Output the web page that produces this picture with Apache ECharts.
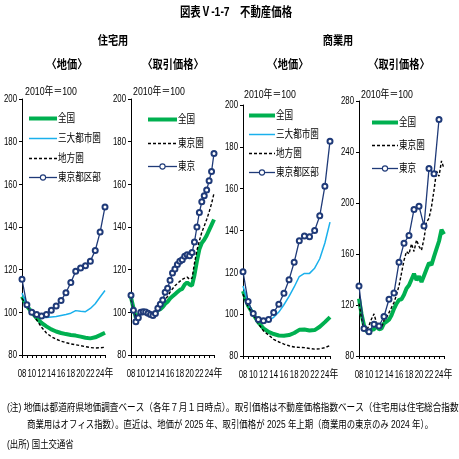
<!DOCTYPE html>
<html>
<head>
<meta charset="utf-8">
<script src="https://cdn.jsdelivr.net/npm/echarts@6/dist/echarts.min.js"></script>
<style>
  html, body { margin: 0; padding: 0; background: #fff; }
  #chart { width: 459px; height: 459px; }
</style>
</head>
<body>
<div id="chart"></div>
<script>
// 年（地価・年次）
var landYears = [2008, 2009, 2010, 2011, 2012, 2013, 2014, 2015, 2016, 2017, 2018, 2019, 2020, 2021, 2022, 2023, 2024, 2025];
// 半期（取引価格）
var halfYears = [2008, 2008.5, 2009, 2009.5, 2010, 2010.5, 2011, 2011.5, 2012, 2012.5, 2013, 2013.5, 2014, 2014.5,
  2015, 2015.5, 2016, 2016.5, 2017, 2017.5, 2018, 2018.5, 2019, 2019.5, 2020, 2020.5, 2021, 2021.5,
  2022, 2022.5, 2023, 2023.5, 2024, 2024.5, 2025];
// 商業用 東京（年次, 2024年まで）
var officeTokyoYears = [2008, 2009, 2010, 2011, 2012, 2013, 2014, 2015, 2016, 2017, 2018, 2019, 2020, 2021, 2022, 2023, 2024];

// 住宅用 地価
var resLandNational = [107.4, 103, 100, 97.2, 95, 93.4, 92, 91, 90.3, 89.8, 89.4, 89.1, 88.6, 88.1, 87.8, 88.3, 89.3, 90.4];
var resLandMetro = [109, 103.5, 100, 98.5, 97.6, 97.6, 97.8, 98, 98.5, 99, 99.6, 100.8, 100.5, 100.3, 101.8, 104, 107.2, 110.2];
var resLandRegional = [106.6, 102.8, 100, 96.5, 93, 90.3, 88.6, 87.4, 86.5, 85.8, 85.2, 84.8, 84.4, 83.9, 83.5, 83.3, 83.4, 83.6];
var resLandTokyo = [115.5, 103.5, 100, 99, 98.3, 99, 101, 103, 105.5, 109.2, 114, 119.2, 120.8, 121.8, 124, 129, 137.6, 149.4];

// 住宅用 取引価格（半期）
var resTxNational = [107, 102, 97.5, 98.5, 100, 100.2, 100, 99.6, 99, 99, 99.8, 101, 101.5, 102.5, 104, 105, 106.5, 107.5,
  108.5, 109.5, 110.5, 111, 113, 114, 113, 112.5, 117.5, 124, 129.5, 132.5, 134, 136, 138.5, 141, 143.5];
var resTxTokyoArea = [106, 101, 97.5, 98.5, 100, 100.3, 100, 99.6, 99, 99, 100, 101.5, 102.5, 104, 106, 107.5, 109.5, 111,
  112.5, 113.5, 114.5, 115.5, 116, 116.5, 115.5, 116, 123, 129, 133.5, 137.5, 140.5, 143.5, 147, 151, 155.8];
var resTxTokyo = [108, 101, 95.6, 97.5, 100, 100.3, 100.2, 99.6, 99, 98.5, 99.5, 101.9, 103.8, 105.8, 109.4, 111.3, 115, 118.4,
  120.3, 122.4, 123.9, 124.7, 126.3, 127, 126.5, 128, 133, 140, 146.8, 151.8, 154.6, 157.3, 161.7, 166, 174.5];

// 商業用 地価
var comLandNational = [111, 104, 100, 96, 93.2, 91.5, 90.5, 89.8, 89.7, 90, 91, 92.5, 92.7, 92.2, 92.4, 94, 96.2, 98.6];
var comLandMetro = [113.5, 105.5, 100, 97.5, 96.7, 97, 98.5, 101, 104.5, 108.5, 113, 118, 119.5, 119.5, 122, 126.5, 134, 144];
var comLandRegional = [109.5, 103.5, 100, 95.5, 92, 90, 88, 86.7, 85.7, 84.9, 84.3, 84.1, 84, 83.6, 83.3, 83.4, 84, 85];
var comLandTokyo = [120.3, 106, 100.3, 97.4, 96.8, 97.4, 100.8, 104.8, 110, 116.5, 124.8, 135.1, 137.4, 137, 140, 147, 161.2, 182.7];

// 商業用 取引価格
var comTxNational = [125, 113, 104, 99.5, 99, 100.5, 101, 103.5, 101, 101.5, 105.5, 107, 108.5, 112, 117, 121, 124, 124.5,
  128, 133, 135.5, 140, 144.5, 139.5, 142.5, 138, 143, 148, 153, 151.5, 158, 164, 170, 179, 175.5];
var comTxTokyoArea = [121, 110, 101, 100, 104, 109, 113, 106, 104.5, 102, 108, 110, 114, 118, 122, 128, 135, 145,
  155, 162, 160, 168, 162, 171, 166, 163, 172, 185, 188, 197, 210, 225, 221, 233, 227];
var comTxTokyo = [135, 101.5, 99, 105, 103.5, 111, 124.5, 129.5, 153.5, 168.5, 174.5, 195, 197.5, 182, 227, 223, 265.5];

// 目盛ラベル
var xTickYears = [2008, 2010, 2012, 2014, 2016, 2018, 2020, 2022, 2024];
var xTickLabels = ['08', '10', '12', '14', '16', '18', '20', '22', '24'];
var yTicks1 = [80, 100, 120, 140, 160, 180, 200];
var yTicks4 = [80, 120, 160, 200, 240, 280];

var legendLand = ['全国', '三大都市圏', '地方圏', '東京都区部'];
var legendTx = ['全国', '東京圏', '東京'];

var JP_FONT = '"Liberation Sans", "Noto Sans CJK JP", sans-serif';
var NUM_FONT = '"Liberation Sans", sans-serif';

var GREEN = '#00B050', CYAN = '#1AB0EC', NAVY = '#1F3A78', BLACK = '#000';

// 系列ごとの線の見た目
var STYLES = {
  thick: { color: GREEN, width: 4, dash: null, mark: false },
  thin: { color: CYAN, width: 1.5, dash: null, mark: false },
  dashed: { color: BLACK, width: 1.4, dash: [3, 2], mark: false },
  marked: { color: NAVY, width: 1.3, dash: null, mark: true }
};
var KIND = { '全国': 'thick', '三大都市圏': 'thin', '地方圏': 'dashed', '東京圏': 'dashed', '東京都区部': 'marked', '東京': 'marked' };

function pairs(xs, ys) {
  var out = [];
  for (var i = 0; i < ys.length; i++) out.push([xs[i], ys[i]]);
  return out;
}

function xAxisCfg(idx) {
  return {
    type: 'value', gridIndex: idx, min: 2008, max: 2025, interval: 1,
    axisLine: { lineStyle: { color: BLACK, width: 1 } },
    axisTick: { show: true, length: 3, lineStyle: { color: BLACK } },
    splitLine: { show: false },
    axisLabel: { show: false }
  };
}

function yAxisCfg(idx, t) {
  return {
    type: 'value', gridIndex: idx, min: t[0], max: t[t.length - 1], interval: t[1] - t[0],
    axisLine: { show: true, lineStyle: { color: BLACK, width: 1 } },
    axisTick: { show: true, length: 3, lineStyle: { color: BLACK } },
    splitLine: { show: false },
    axisLabel: { show: false }
  };
}

function line(name, idx, xs, ys) {
  var st = STYLES[KIND[name]];
  var s = {
    name: name, type: 'line', xAxisIndex: idx, yAxisIndex: idx, data: pairs(xs, ys),
    symbol: 'none', lineStyle: { color: st.color, width: st.width }, itemStyle: { color: st.color }
  };
  if (st.dash) s.lineStyle.type = st.dash;
  if (st.mark) {
    s.symbol = 'emptyCircle';
    s.symbolSize = 5;
    s.z = 5;
    s.itemStyle.borderWidth = 1.1;
  }
  return s;
}

function txt(s, x, y, size, sx, align, bold, family) {
  return {
    type: 'text', x: x, y: y, scaleX: sx, silent: true,
    style: {
      text: s, fill: BLACK, textAlign: align || 'center', textVerticalAlign: 'middle',
      font: (bold ? 'bold ' : '') + size + 'px ' + (family || JP_FONT)
    }
  };
}

// 凡例（線見本と名前）
function legendBlock(names, x, y0, gap, w) {
  var els = [];
  names.forEach(function (n, i) {
    var st = STYLES[KIND[n]];
    var cy = Math.round(y0 + i * gap) + 0.5;
    els.push({
      type: 'line', silent: true,
      shape: { x1: x, y1: cy, x2: x + w, y2: cy },
      style: { stroke: st.color, lineWidth: st.width, lineDash: st.dash }
    });
    if (st.mark) {
      els.push({
        type: 'circle', silent: true, z: 2,
        shape: { cx: x + w / 2, cy: cy, r: 2.6 },
        style: { fill: '#fff', stroke: st.color, lineWidth: 1.1 }
      });
    }
    els.push(txt(n, x + w + 1, cy, 11, 0.78, 'left'));
  });
  return els;
}

var chart = echarts.init(document.getElementById('chart'), null, { renderer: 'canvas' });

var graphics = [
  txt('図表Ⅴ-1-7　不動産価格', 236, 12, 13, 0.8, 'center', true),
  txt('住宅用', 113, 42, 12, 0.85, 'center', true),
  txt('商業用', 338, 42, 12, 0.85, 'center', true),
  txt('〈地価〉', 67, 66, 12, 0.85, 'center', true),
  txt('〈取引価格〉', 173, 66, 12, 0.85, 'center', true),
  txt('〈地価〉', 288, 66, 12, 0.85, 'center', true),
  txt('〈取引価格〉', 399, 66, 12, 0.85, 'center', true),
  txt('2010年＝100', 25, 92, 11, 0.8, 'left'),
  txt('2010年＝100', 133, 92, 11, 0.8, 'left'),
  txt('2010年＝100', 244, 95, 11, 0.8, 'left'),
  txt('2010年＝100', 361, 95, 11, 0.8, 'left'),
  txt('(注) 地価は都道府県地価調査ベース（各年７月１日時点）。取引価格は不動産価格指数ベース（住宅用は住宅総合指数、', 7, 408, 10.5, 0.82, 'left'),
  txt('商業用はオフィス指数）。直近は、地価が 2025 年、取引価格が 2025 年上期（商業用の東京のみ 2024 年）。', 27, 425, 10.5, 0.8, 'left'),
  txt('(出所) 国土交通省', 7, 445, 10.5, 0.8, 'left')
]
  .concat(legendBlock(legendLand, 29, 118, 19.8, 28))
  .concat(legendBlock(legendTx, 148, 119, 23.5, 29))
  .concat(legendBlock(legendLand, 249, 115, 19, 26))
  .concat(legendBlock(legendTx, 372, 122, 23, 26));

var yTickSets = [yTicks1, yTicks1, yTicks1, yTicks4];

var option = {
  animation: false,
  backgroundColor: '#fff',
  grid: [
    { left: 22, top: 99, width: 83, height: 256 },
    { left: 131, top: 99, width: 83, height: 256 },
    { left: 243, top: 105, width: 87, height: 251 },
    { left: 359, top: 101, width: 85, height: 255 }
  ],
  xAxis: [xAxisCfg(0), xAxisCfg(1), xAxisCfg(2), xAxisCfg(3)],
  yAxis: [yAxisCfg(0, yTicks1), yAxisCfg(1, yTicks1), yAxisCfg(2, yTicks1), yAxisCfg(3, yTicks4)],
  graphic: graphics,
  series: [
    line('全国', 0, landYears, resLandNational),
    line('三大都市圏', 0, landYears, resLandMetro),
    line('地方圏', 0, landYears, resLandRegional),
    line('東京都区部', 0, landYears, resLandTokyo),

    line('全国', 1, halfYears, resTxNational),
    line('東京圏', 1, halfYears, resTxTokyoArea),
    line('東京', 1, halfYears, resTxTokyo),

    line('全国', 2, landYears, comLandNational),
    line('三大都市圏', 2, landYears, comLandMetro),
    line('地方圏', 2, landYears, comLandRegional),
    line('東京都区部', 2, landYears, comLandTokyo),

    line('全国', 3, halfYears, comTxNational),
    line('東京圏', 3, halfYears, comTxTokyoArea),
    line('東京', 3, officeTokyoYears, comTxTokyo)
  ]
};

chart.setOption(option);

// 目盛ラベルは軸の座標から配置し、細い字形に見せるため横に縮める
var tickLabels = [];
for (var g = 0; g < 4; g++) {
  var ticks = yTickSets[g];
  var axisX = chart.convertToPixel({ xAxisIndex: g }, 2008);
  var axisY = chart.convertToPixel({ yAxisIndex: g }, ticks[0]);
  xTickYears.forEach(function (yr, i) {
    var px = chart.convertToPixel({ xAxisIndex: g }, yr);
    tickLabels.push(txt(xTickLabels[i], px, axisY + 18.5, 11.5, 0.68, 'center', false, NUM_FONT));
    if (i === xTickYears.length - 1) {
      tickLabels.push(txt('年', px + 4.5, axisY + 18.5, 11, 0.8, 'left'));
    }
  });
  ticks.forEach(function (v) {
    var py = chart.convertToPixel({ yAxisIndex: g }, v);
    tickLabels.push(txt(String(v), axisX - 5, py, 11.5, 0.68, 'right', false, NUM_FONT));
  });
}
chart.setOption({ graphic: graphics.concat(tickLabels) });
</script>
</body>
</html>
